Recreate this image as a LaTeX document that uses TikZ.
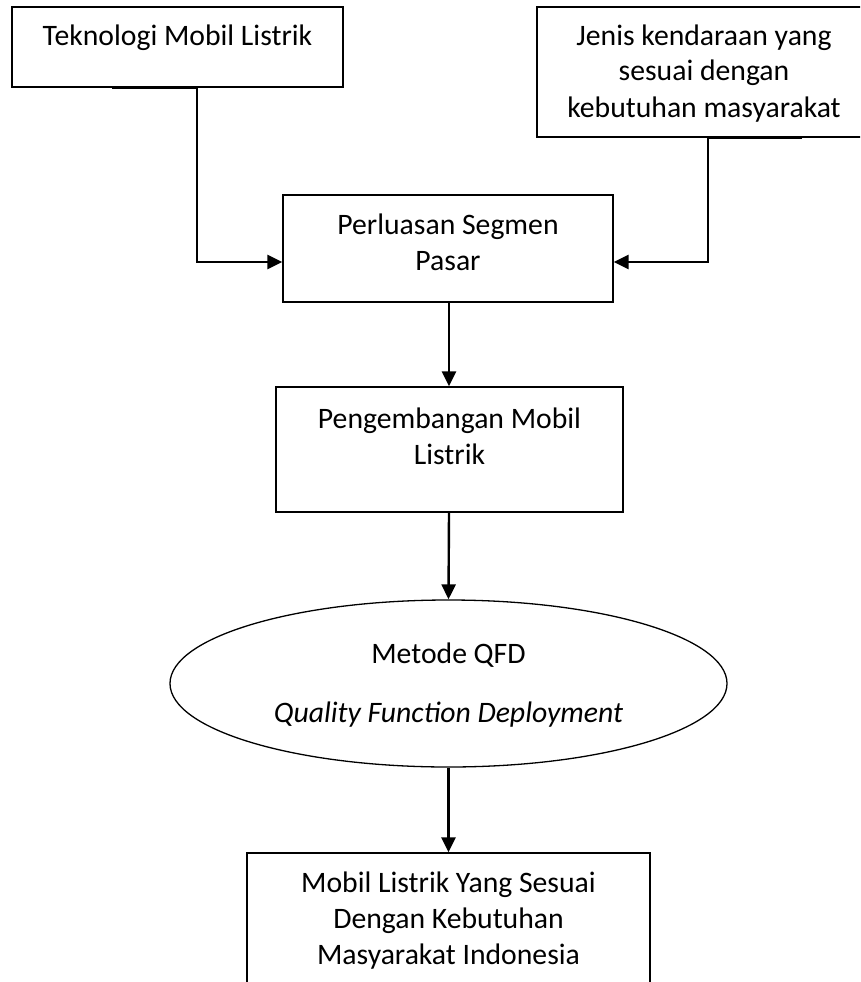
\documentclass[tikz,border=0pt]{standalone}
\usepackage{fontspec}
\setmainfont{Carlito}
\usetikzlibrary{shapes.geometric,arrows.meta}
\tikzset{
  box/.style={draw=black, line width=1.3pt, rectangle, inner sep=0pt},
  oval/.style={draw=black, line width=1.3pt, ellipse, inner sep=0pt},
  txt/.style={align=center, anchor=base, inner sep=0pt, font=\fontsize{29.7}{36}\selectfont},
  arr/.style={line width=2.4pt, -{Triangle[length=15pt,width=14pt]}},
}
\begin{document}
\begin{tikzpicture}[x=1pt,y=-1pt]
\useasboundingbox (0,0) rectangle (860,982);
\begin{scope}
\clip (0,0) rectangle (860,982);
% boxes
\node[box, minimum width=331pt, minimum height=80pt] (b1) at (177.5,47) {};
\node[box, minimum width=353pt, minimum height=130pt] (b2) at (713.5,72) {};
\node[box, minimum width=330pt, minimum height=107pt] (b3) at (448,248.5) {};
\node[box, minimum width=347pt, minimum height=125pt] (b4) at (449.5,449.5) {};
\node[oval, minimum width=557pt, minimum height=167pt] (e) at (448.5,683.5) {};
\node[box, minimum width=403pt, minimum height=140pt] (b5) at (448.5,923) {};
% texts (base = baseline of last line)
\node[txt] (t1) at (177.5,46) {Teknologi Mobil Listrik};
\node[txt] (t2) at (704,117) {Jenis kendaraan yang\\sesuai dengan\\kebutuhan masyarakat};
\node[txt] (t3) at (448,270) {Perluasan Segmen\\Pasar};
\node[txt] (t4) at (449.5,464) {Pengembangan Mobil\\Listrik};
\node[txt] (t5a) at (448.5,663) {Metode QFD};
\node[txt] (t5b) at (448.5,722) {\itshape Quality Function Deployment};
\node[txt] (t6) at (448.5,964) {Mobil Listrik Yang Sesuai\\Dengan Kebutuhan\\Masyarakat Indonesia};
% connectors
\draw[arr] ([xshift=-65.5pt]b1.south) -- ([xshift=19.5pt]b1.south) |- ([yshift=-13.5pt]b3.west);
\draw[arr] ([xshift=88.5pt]b2.south) -- ([xshift=-5.5pt]b2.south) |- ([yshift=-13.5pt]b3.east);
\draw[arr] ([xshift=1pt]b3.south) -- ([xshift=-0.5pt]b4.north);
\draw[arr] ([xshift=-0.5pt]b4.south) -- (e.north);
\draw[arr] (e.south) -- (b5.north);
\end{scope}
\end{tikzpicture}
\end{document}
